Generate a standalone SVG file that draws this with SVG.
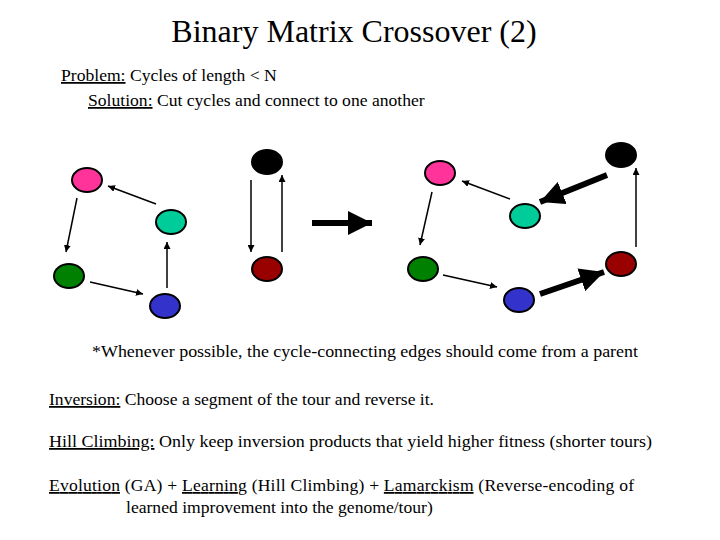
<svg xmlns="http://www.w3.org/2000/svg" width="720" height="540" viewBox="0 0 720 540">
<style>
text{font-family:"Liberation Serif",serif;fill:#000}
.t{font-size:17.6px}
ellipse{stroke:#000;stroke-width:2}
.e{stroke:#000;stroke-width:1.5;fill:none}
.b{stroke:#000;stroke-width:6;fill:none}
</style>
<defs>
<marker id="a" viewBox="0 0 10 10" refX="10" refY="5" markerWidth="7" markerHeight="7" markerUnits="userSpaceOnUse" orient="auto"><path d="M0,0L10,5L0,10z"/></marker>
<marker id="A" viewBox="0 0 10 10" refX="10" refY="5" markerWidth="4" markerHeight="4" orient="auto"><path d="M0,0L10,5L0,10z"/></marker>
</defs>
<rect width="720" height="540" fill="#fff"/>
<text x="354" y="42" font-size="32" text-anchor="middle">Binary Matrix Crossover (2)</text>
<text class="t" x="61" y="81"><tspan text-decoration="underline">Problem:</tspan> Cycles of length &lt; N</text>
<text class="t" x="88" y="106"><tspan text-decoration="underline">Solution:</tspan> Cut cycles and connect to one another</text>
<g id="connectors">
<path class="e" d="M77,198L66,252" marker-end="url(#a)"/>
<path class="e" d="M156,204L108,186" marker-end="url(#a)"/>
<path class="e" d="M90,282L143,294" marker-end="url(#a)"/>
<path class="e" d="M167,288L167,242" marker-end="url(#a)"/>
<path class="e" d="M251,180L251,252" marker-end="url(#a)"/>
<path class="e" d="M282,252L282,175" marker-end="url(#a)"/>
<path class="b" d="M312,223L372,223" marker-end="url(#A)"/>
<path class="e" d="M510,199L462,181" marker-end="url(#a)"/>
<path class="e" d="M432,192L420,245" marker-end="url(#a)"/>
<path class="e" d="M443,275L497,287" marker-end="url(#a)"/>
<path class="b" d="M540,294L604,272" marker-end="url(#A)"/>
<path class="e" d="M636,247L636,168" marker-end="url(#a)"/>
<path class="b" d="M607,175L540,202" marker-end="url(#A)"/>
</g>
<g id="n1"><ellipse cx="87" cy="180" rx="15" ry="12" fill="#ff3399"/></g>
<g id="n2"><ellipse cx="171" cy="222" rx="15" ry="12" fill="#00cc99"/></g>
<g id="n3"><ellipse cx="69" cy="276" rx="15" ry="12" fill="#008000"/></g>
<g id="n4"><ellipse cx="165" cy="306" rx="15" ry="12" fill="#3333cc"/></g>
<g id="n5"><ellipse cx="267" cy="162" rx="15" ry="12" fill="#000"/></g>
<g id="n6"><ellipse cx="267" cy="269" rx="15" ry="12" fill="#990000"/></g>
<g id="m1"><ellipse cx="440" cy="173" rx="15" ry="12" fill="#ff3399"/></g>
<g id="m2"><ellipse cx="525" cy="216" rx="15" ry="12" fill="#00cc99"/></g>
<g id="m3"><ellipse cx="423" cy="269" rx="15" ry="12" fill="#008000"/></g>
<g id="m4"><ellipse cx="519" cy="300" rx="15" ry="12" fill="#3333cc"/></g>
<g id="m5"><ellipse cx="621" cy="155" rx="15" ry="12" fill="#000"/></g>
<g id="m6"><ellipse cx="621" cy="264" rx="15" ry="12" fill="#990000"/></g>
<text class="t" x="92" y="357" textLength="546" lengthAdjust="spacingAndGlyphs">*Whenever possible, the cycle-connecting edges should come from a parent</text>
<text class="t" x="49" y="405"><tspan text-decoration="underline">Inversion:</tspan> Choose a segment of the tour and reverse it.</text>
<text class="t" x="49" y="447" textLength="603" lengthAdjust="spacingAndGlyphs"><tspan text-decoration="underline">Hill Climbing:</tspan> Only keep inversion products that yield higher fitness (shorter tours)</text>
<text class="t" x="49" y="491" textLength="585"><tspan text-decoration="underline">Evolution</tspan> (GA) + <tspan text-decoration="underline">Learning</tspan> (Hill Climbing) + <tspan text-decoration="underline"> Lamarckism</tspan> (Reverse-encoding of</text>
<text class="t" x="126" y="513">learned improvement into the genome/tour)</text>
</svg>
